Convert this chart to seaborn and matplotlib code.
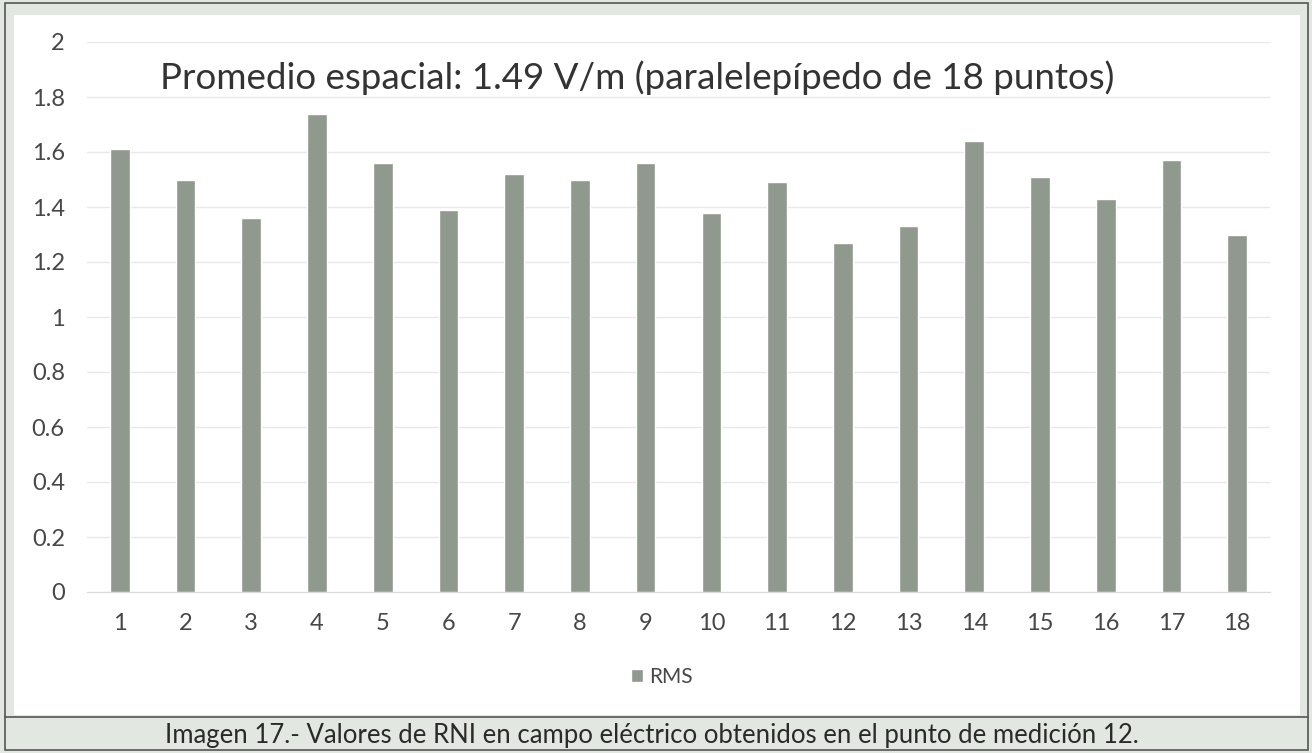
import matplotlib
matplotlib.use('Agg')
import matplotlib.pyplot as plt
import matplotlib.patches as mpatches
import pandas as pd
import seaborn as sns

# Valores RMS (V/m) para los 18 puntos
puntos = [str(i) for i in range(1, 19)]
rms = [1.61, 1.50, 1.36, 1.74, 1.56, 1.39, 1.52, 1.50, 1.56,
       1.38, 1.49, 1.27, 1.33, 1.64, 1.51, 1.43, 1.57, 1.30]
yticks = [0, 0.2, 0.4, 0.6, 0.8, 1, 1.2, 1.4, 1.6, 1.8, 2]
ytick_labels = ['0', '0.2', '0.4', '0.6', '0.8', '1', '1.2', '1.4', '1.6', '1.8', '2']

titulo = 'Promedio espacial: 1.49 V/m (paralelepípedo de 18 puntos)'
pie = 'Imagen 17.- Valores de RNI en campo eléctrico obtenidos en el punto de medición 12.'

df = pd.DataFrame({'punto': puntos, 'RMS': rms})

sns.set_style('white')
plt.rcParams['font.family'] = ['Lato', 'DejaVu Sans']

bar_color = '#8f998e'
text_color = '#474747'

W, H = 1312, 753
fig = plt.figure(figsize=(W / 100, H / 100), dpi=100)
fig.patch.set_facecolor('#e3e7e2')

# panel blanco del grafico
fig.patches.append(mpatches.Rectangle((14 / W, 1 - 715 / H), 1286 / W, 700 / H,
                                      transform=fig.transFigure, facecolor='white',
                                      edgecolor='none', zorder=-3))
# marco exterior
fig.patches.append(mpatches.Rectangle((5 / W, 3 / H), 1303 / W, 747 / H,
                                      transform=fig.transFigure, facecolor='none',
                                      edgecolor='#555555', linewidth=1.2, zorder=-2))
# linea sobre el pie de figura
fig.add_artist(plt.Line2D([5 / W, 1308 / W], [1 - 717 / H, 1 - 717 / H],
                          transform=fig.transFigure, color='#555555', linewidth=1.2,
                          zorder=-2))

ax = fig.add_axes([87 / W, 1 - 592 / H, 1183 / W, 550 / H])
ax.set_facecolor('none')
ax.set_zorder(2)

sns.barplot(data=df, x='punto', y='RMS', color=bar_color, width=0.3,
            saturation=1, ax=ax, label='RMS', zorder=3)

ax.set_ylim(0, 2)
ax.set_xlim(-0.5, 17.5)
ax.set_yticks(yticks)
ax.set_yticklabels(ytick_labels)
ax.yaxis.grid(True, color='#e8e8e8', linewidth=1)
ax.set_axisbelow(True)
ax.set_xlabel('')
ax.set_ylabel('')
for s in ['top', 'right', 'left']:
    ax.spines[s].set_visible(False)
ax.spines['bottom'].set_color('#d9d9d9')

# marcas entre categorias
ax.set_xticks([i - 0.5 for i in range(19)], minor=True)
ax.tick_params(axis='x', which='minor', length=5, color='#d9d9d9', width=1)
ax.tick_params(axis='x', which='major', length=0, pad=15, labelsize=17,
               labelcolor=text_color)
ax.tick_params(axis='y', length=0, pad=16, labelsize=17, labelcolor=text_color)

ax.text(0.465, 0.935, titulo, transform=ax.transAxes, ha='center', va='center',
        fontsize=26.5, color='#333333')

leg = ax.legend(loc='center', bbox_to_anchor=(575 / 1183, -85 / 550), frameon=False,
                fontsize=15, handlelength=0.6, handleheight=0.6, handletextpad=0.3)
for t in leg.get_texts():
    t.set_color(text_color)

fig.text(652 / W, 1 - 735 / H, pie, ha='center', va='center', fontsize=18.5,
         color='#2a2a2a')

fig.savefig('out.png', dpi=100, facecolor=fig.get_facecolor())
